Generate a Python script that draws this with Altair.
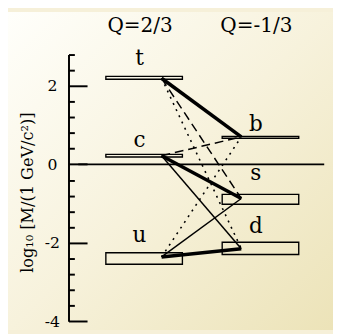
import altair as alt
import pandas as pd

# ---- data (log10 of mass in GeV/c^2) ----
quarks = ["t", "c", "u", "b", "s", "d"]
column = [0, 0, 0, 1, 1, 1]  # 0: Q=2/3 column, 1: Q=-1/3 column
mass_lo = [2.171, 0.189, -2.549, 0.662, -1.016, -2.30]
mass_hi = [2.245, 0.254, -2.253, 0.709, -0.767, -1.987]
mass_pt = [2.195, 0.22, -2.36, 0.70, -0.87, -2.15]
label_y = [2.544, 0.436, -1.97, 0.851, -0.396, -1.758]

mix_up = ["t", "t", "t", "c", "c", "c", "u", "u", "u"]
mix_down = ["b", "s", "d", "b", "s", "d", "b", "s", "d"]
mix_kind = ["thick", "dashed", "dotted", "dashed", "thick", "thin", "dotted", "thin", "thick"]

charge_labels = ["Q=2/3", "Q=-1/3"]
charge_col = [0, 1]
charge_y = [3.37, 3.37]

y_ticks = [-4, -3.6, -3.2, -2.8, -2.4, -2, -1.6, -1.2, -0.8, -0.4,
           0, 0.4, 0.8, 1.2, 1.6, 2, 2.4, 2.8]
y_title = "log\u2081\u2080 [M/(1 GeV/c\u00b2)]"

# ---- layout constants ----
W, H = 262, 273.2
PAD = {"left": 62, "top": 43.7, "right": 9, "bottom": 8.9}
HALF = 0.329
ATTACH_L, ATTACH_R = 0.15, 0.835
FONT = "DejaVu Serif"

boxes = pd.DataFrame({
    "q": quarks, "col": column, "lo": mass_lo, "hi": mass_hi, "ly": label_y,
})
boxes["x1"] = boxes["col"] - HALF
boxes["x2"] = boxes["col"] + HALF
boxes["lx"] = boxes["col"] - 0.04

pt = dict(zip(quarks, mass_pt))
mix = pd.DataFrame({"up": mix_up, "down": mix_down, "kind": mix_kind})
mix["xa"] = ATTACH_L
mix["xb"] = ATTACH_R
mix["ya"] = [pt[u] for u in mix_up]
mix["yb"] = [pt[d] for d in mix_down]

charges = pd.DataFrame({"t": charge_labels, "col": charge_col, "y": charge_y})
charges["x"] = charges["col"] - 0.035

xs = alt.Scale(domain=[-0.65, 1.548], nice=False, zero=False)
ys = alt.Scale(domain=[-4, 2.8], nice=False, zero=False)

major = "abs(datum.value % 2) < 0.001"
y_axis = alt.Axis(
    title=y_title, titleFont=FONT, titleFontSize=16.5, titleFontWeight="normal",
    titleColor="black", titleX=-42, titleY=141, titleAngle=270,
    titleAlign="center", titleBaseline="middle",
    values=y_ticks,
    labelExpr=f"{major} ? (datum.value < 0 ? '-' + abs(round(datum.value)) : '' + round(datum.value)) : ''",
    labelFont=FONT, labelFontSize=16, labelColor="black",
    labelAlign="center", labelBaseline="middle", labelPadding=17,
    labelFlush=False, labelOverlap=False, labelBound=False,
    ticks=False, tickSize=0,
    domainColor="black", domainWidth=2,
    grid=True, gridColor="black", gridWidth=2, gridOpacity=1,
    gridDash={"condition": {"test": major, "value": [19, 2000]}, "value": [6, 2000]},
    zindex=1,
)

bg = alt.Chart(pd.DataFrame({"a": [0]})).mark_rect(
    fill=alt.Gradient(
        gradient="linear", x1=0, y1=0, x2=1, y2=1,
        stops=[alt.GradientStop(offset=0, color="#FFFFFB"),
               alt.GradientStop(offset=0.5, color="#F7F2DC"),
               alt.GradientStop(offset=1, color="#ECE3B8")],
    )
).encode(
    x=alt.value(-PAD["left"]), x2=alt.value(W + PAD["right"]),
    y=alt.value(-PAD["top"]), y2=alt.value(H + PAD["bottom"]),
)

zero = alt.Chart(pd.DataFrame({"y": [0]})).mark_rule(
    color="black", strokeWidth=1.6
).encode(
    y=alt.Y("y:Q", scale=ys, axis=y_axis),
    x=alt.value(10), x2=alt.value(W),
)

rects = alt.Chart(boxes).mark_rect(
    fill=None, stroke="black", strokeWidth=1.4
).encode(
    x=alt.X("x1:Q", scale=xs, axis=None), x2="x2:Q",
    y=alt.Y("lo:Q", scale=ys, axis=y_axis), y2="hi:Q",
)

styles = {
    "thick": dict(strokeWidth=3.6),
    "thin": dict(strokeWidth=1.5),
    "dashed": dict(strokeWidth=1.5, strokeDash=[9, 5]),
    "dotted": dict(strokeWidth=1.6, strokeDash=[2, 5]),
}
lines = []
for k, st in styles.items():
    lines.append(
        alt.Chart(mix).transform_filter(alt.datum.kind == k).mark_rule(
            color="black", **st
        ).encode(
            x=alt.X("xa:Q", scale=xs, axis=None), x2="xb:Q",
            y=alt.Y("ya:Q", scale=ys, axis=y_axis), y2="yb:Q",
        )
    )

qlabels = alt.Chart(boxes).mark_text(
    font=FONT, fontSize=22, color="black", align="center", baseline="alphabetic"
).encode(
    x=alt.X("lx:Q", scale=xs, axis=None),
    y=alt.Y("ly:Q", scale=ys, axis=y_axis),
    text="q:N",
)

clabels = alt.Chart(charges).mark_text(
    font=FONT, fontSize=20.5, color="black", align="center", baseline="alphabetic"
).encode(
    x=alt.X("x:Q", scale=xs, axis=None),
    y=alt.Y("y:Q", scale=ys, axis=y_axis),
    text="t:N",
)

chart = alt.layer(bg, zero, rects, *lines, qlabels, clabels).properties(
    width=W, height=H,
    autosize=alt.AutoSizeParams(type="none"),
    padding=PAD,
    background="#F6F0D9",
).configure_view(stroke=None)

chart.save("out.html", embed_options={"renderer": "svg", "actions": False})
